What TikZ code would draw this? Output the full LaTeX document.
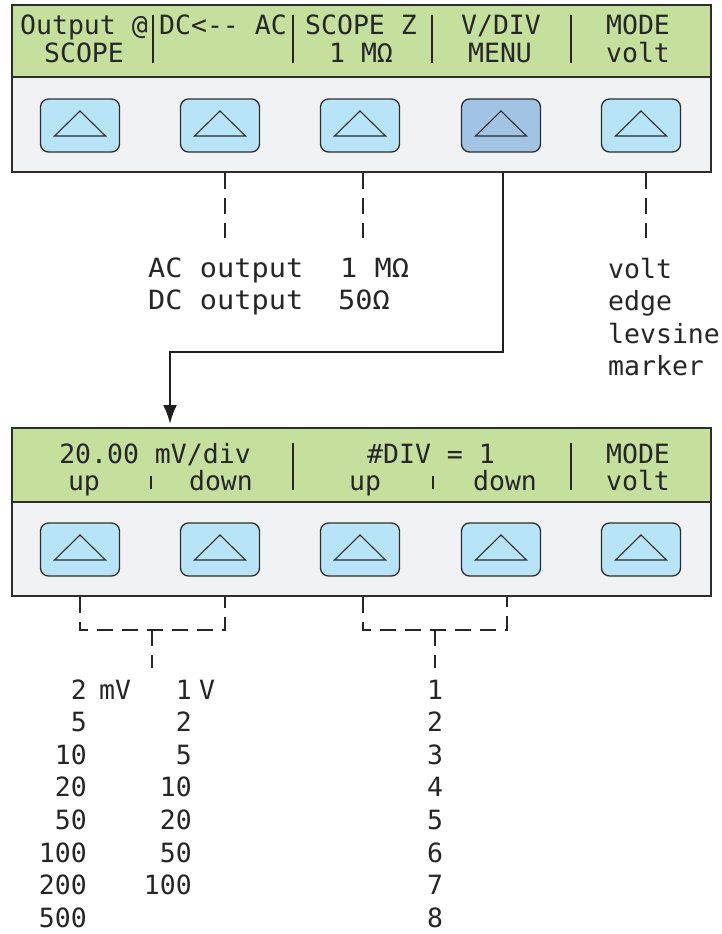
\documentclass[tikz,border=0pt]{standalone}
\usepackage{fontspec}
\newfontfamily\lcd{DejaVu Sans Mono}[Ligatures=NoCommon]
\newfontfamily\lcdw{DejaVu Sans Mono}[FakeStretch=1.08,Ligatures=NoCommon]
\usetikzlibrary{arrows.meta}
\definecolor{lcdgreen}{RGB}{197,223,157}
\definecolor{panelgray}{RGB}{241,242,244}
\definecolor{keyblue}{RGB}{184,228,248}
\definecolor{keyselblue}{RGB}{162,196,228}
\definecolor{linegray}{RGB}{45,45,45}
\tikzset{
  panelbox/.style={draw=linegray, line width=2pt, fill=panelgray, inner sep=0pt, minimum width=699pt},
  bandbox/.style={draw=linegray, line width=2pt, fill=lcdgreen},
  keybox/.style={draw=linegray, line width=1.3pt, fill=keyblue, rounded corners=8pt,
    minimum width=79pt, minimum height=53pt, inner sep=0pt},
  selkey/.style={keybox, fill=keyselblue},
  lcdtext/.style={font=\lcd\fontsize{26.5}{30}\selectfont, inner sep=0pt, anchor=base, text=black!85},
  labtext/.style={font=\lcdw\fontsize{26.5}{30}\selectfont, inner sep=0pt, anchor=base west, text=black!85},
  modetext/.style={font=\lcd\fontsize{26.5}{30}\selectfont, inner sep=0pt, anchor=base west, text=black!85},
  numtext/.style={font=\lcd\fontsize{26.5}{30}\selectfont, inner sep=0pt, anchor=base east, text=black!85},
  divider/.style={line width=2.5pt, draw=black!85},
  smallbar/.style={line width=2pt, draw=black!85},
  leader/.style={line width=1.2pt, draw=black!85, dash pattern=on 16pt off 9pt},
  flow/.style={line width=2.5pt, draw=black!88, -{Latex[length=19pt,width=14pt]}, shorten >=3pt}
}
\newcommand{\keytri}[1]{\draw[line width=1.1pt, linegray] ([shift={(-25.5pt,-10.5pt)}]#1.center) -- ([shift={(25.5pt,-10.5pt)}]#1.center) -- ([shift={(0pt,14.5pt)}]#1.center) -- cycle;}
\begin{document}
\begin{tikzpicture}[x=1pt,y=-1pt]
\useasboundingbox (0,0) rectangle (722,934);
% ---------- top panel ----------
\node[panelbox, minimum height=167pt] (top) at (361.5,88.5) {};
\path[bandbox] (12,5) rectangle (711,77);
\foreach \x in {153,293,432,571} \draw[divider] (\x,15) -- (\x,63);
\node[keybox] (k1) at (80,125.5) {};
\node[keybox] (k2) at (220,125.5) {};
\node[keybox] (k3) at (360,125.5) {};
\node[selkey] (k4) at (501,125.5) {};
\node[keybox] (k5) at (641,125.5) {};
\foreach \k in {k1,k2,k3,k4,k5} {\keytri{\k}}
\node[lcdtext] (t1a) at (84,35) {Output @};
\node[lcdtext] (t1b) at (84,63) {SCOPE};
\node[lcdtext] (t2a) at (223,35) {DC<{-}{-} AC};
\node[lcdtext] (t3a) at (361,35) {SCOPE Z};
\node[lcdtext] (t3b) at (361,63) {1 MΩ};
\node[lcdtext] (t4a) at (501,35) {V/DIV};
\node[lcdtext] (t4b) at (500,63) {MENU};
\node[lcdtext] (t5a) at (638,35) {MODE};
\node[lcdtext] (t5b) at (638,63) {volt};
% labels under top panel
\coordinate (e2) at (225,238);
\coordinate (e3) at (363,238);
\coordinate (e5) at (646,238);
\draw[leader] (top.south -| e2) -- (e2);
\draw[leader] (top.south -| e3) -- (e3);
\draw[leader] (top.south -| e5) -- (e5);
\node[labtext] (acout) at (148,277) {AC output};
\node[labtext] (dcout) at (148,309) {DC output};
\node[labtext] (z1) at (340,277) {1 MΩ};
\node[labtext] (z2) at (338,309) {50Ω};
\node[modetext] (m1) at (608,278) {volt};
\node[modetext] (m2) at (608,310) {edge};
\node[modetext] (m3) at (608,343) {levsine};
\node[modetext] (m4) at (608,375) {marker};
% ---------- bottom panel ----------
\node[panelbox, minimum height=168pt] (bot) at (361.5,512) {};
\path[bandbox] (12,428) rectangle (711,502);
\foreach \x in {293,571} \draw[divider] (\x,443) -- (\x,490);
\foreach \x in {151,433} \draw[smallbar] (\x,476) -- (\x,489);
\node[keybox] (b1) at (80,549.5) {};
\node[keybox] (b2) at (220,549.5) {};
\node[keybox] (b3) at (360,549.5) {};
\node[keybox] (b4) at (501,549.5) {};
\node[keybox] (b5) at (641,549.5) {};
\foreach \k in {b1,b2,b3,b4,b5} {\keytri{\k}}
\node[lcdtext] (u1) at (155,463) {20.00 mV/div};
\node[lcdtext] (u2) at (84,490) {up};
\node[lcdtext] (u3) at (221,490) {down};
\node[lcdtext] (u4) at (431,463) {\#DIV = 1};
\node[lcdtext] (u5) at (365,490) {up};
\node[lcdtext] (u6) at (505,490) {down};
\node[lcdtext] (u7) at (638,463) {MODE};
\node[lcdtext] (u8) at (638,490) {volt};
% arrow between panels
\coordinate (abend) at (170,352);
\coordinate (asrc) at (503,172);
\draw[flow] (top.south -| asrc) |- (abend) -- (bot.north -| abend);
% brackets
\coordinate (bl) at (80,630);
\coordinate (br) at (225,630);
\coordinate (bm) at (152,630);
\coordinate (bs) at (152,668);
\draw[leader] (bot.south -| bl) -- (bl) -- (br) -- (bot.south -| br);
\draw[leader] (bm) -- (bs);
\coordinate (cl) at (363,630);
\coordinate (cr) at (507,630);
\coordinate (cm) at (435,630);
\coordinate (cs) at (435,668);
\draw[leader] (bot.south -| cl) -- (cl) -- (cr) -- (bot.south -| cr);
\draw[leader] (cm) -- (cs);
% value lists
\foreach \v [count=\i] in {2,5,10,20,50,100,200,500}
  \node[numtext] (mv\i) at (87,{699+32.6*(\i-1)}) {\v};
\node[lcdtext, anchor=base west] (mvunit) at (99,699) {mV};
\foreach \v [count=\i] in {1,2,5,10,20,50,100}
  \node[numtext] (vv\i) at (192,{699+32.6*(\i-1)}) {\v};
\node[lcdtext, anchor=base west] (vunit) at (199,699) {V};
\foreach \v [count=\i] in {1,...,8}
  \node[lcdtext] (dv\i) at (435,{699+32.6*(\i-1)}) {\v};
\end{tikzpicture}
\end{document}
